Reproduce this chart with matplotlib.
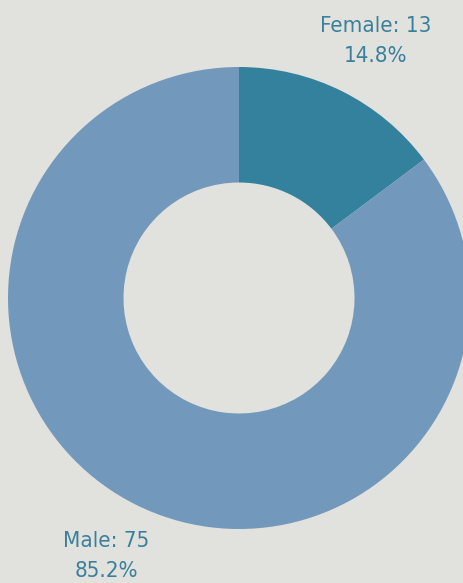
import matplotlib.pyplot as plt

labels = ['Female', 'Male']
counts = [13, 75]
colors = ['#33819c', '#7299bc']

W, H = 464, 583
fig = plt.figure(figsize=(W / 100, H / 100), dpi=100)
fig.patch.set_facecolor('#e1e1de')
ax = fig.add_axes([0, 0, 1, 1])

# donut, centre at pixel (239, 298) from top
cx, cy, r = 239, H - 298, 231
ax.pie(counts, colors=colors, startangle=90, counterclock=False,
       center=(cx, cy), radius=r, frame=True,
       wedgeprops=dict(width=r * 0.5, linewidth=0))
ax.set_xlim(0, W)
ax.set_ylim(0, H)
ax.set_aspect('equal')
ax.axis('off')

total = sum(counts)
txt = dict(ha='center', va='center', fontsize=16, color='#3a809a',
           family='DejaVu Sans', fontstretch='condensed', linespacing=1.6)
pos = {'Female': (376, H - 41), 'Male': (106, H - 556)}
for lab, n in zip(labels, counts):
    x, y = pos[lab]
    ax.text(x, y, f'{lab}: {n}\n{n / total * 100:.1f}%', **txt)

fig.savefig('out.png', dpi=100, facecolor=fig.get_facecolor())
